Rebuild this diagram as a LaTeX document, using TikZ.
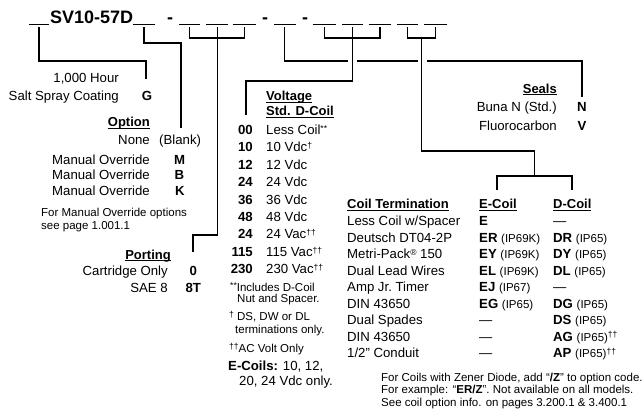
\documentclass[tikz,border=0pt]{standalone}
\usepackage{fontspec}
\setmainfont{Liberation Sans}
\newcommand\ulx[1]{\setbox0\hbox{#1}\rlap{\rule[-2.2pt]{\wd0}{1pt}}\box0}
\newcommand\ipx[1]{{\fontsize{11.5}{13}\selectfont(#1)}}
\newcommand\supx[1]{\raisebox{0.45ex}{\fontsize{8.5}{9}\selectfont #1}}
\tikzset{
  lbl/.style={inner sep=0pt, font=\fontsize{13.2}{15}\selectfont},
  codex/.style={inner sep=0pt, font=\fontsize{13.2}{15}\selectfont\bfseries},
  ftn/.style={inner sep=0pt, font=\fontsize{11.5}{13}\selectfont},
  hdr/.style={inner sep=0pt, font=\fontsize{13}{15}\selectfont\bfseries},
  wire/.style={line width=1.2pt, black},
  blankline/.style={line width=1.2pt, black},
  gapx/.style={line width=3pt, white},
}
\begin{document}
\begin{tikzpicture}[x=1pt,y=-1pt]
\useasboundingbox (0,0) rectangle (643,412);
% model code
\node[inner sep=0pt, anchor=base west, font=\fontsize{18}{20}\selectfont\bfseries] (model) at (50,23.5) {SV10-57D};
\node[inner sep=0pt, anchor=base, font=\fontsize{18}{20}\selectfont\bfseries] (d1) at (170,23.5) {-};
\node[inner sep=0pt, anchor=base, font=\fontsize{18}{20}\selectfont\bfseries] (d2) at (265,23.5) {-};
\node[inner sep=0pt, anchor=base, font=\fontsize{18}{20}\selectfont\bfseries] (d3) at (305,23.5) {-};
% blanks
\foreach \a/\b in {29/49,133/155,179/200,206/228,233/256,274/296,313/336,342/363,369/391,397/418,424/447}
  \draw[blankline] (\a,24.5) -- (\b,24.5);
\coordinate (b0) at (39,27.5);
\coordinate (b1) at (144,27.5);
\coordinate (b2) at (189.5,27.5);
\coordinate (b3) at (217.5,27.5);
\coordinate (b4) at (244.5,27.5);
\coordinate (b5) at (284.5,27.5);
\coordinate (b6) at (324.5,27.5);
\coordinate (b7) at (352.5,27.5);
\coordinate (b8) at (380,27.5);
\coordinate (b9) at (407.5,27.5);
\coordinate (b10) at (435.5,27.5);
\coordinate (eG) at (146,79);
\coordinate (eBl) at (181,128);
\coordinate (eP) at (193,252);
\coordinate (eN) at (582,97);
\coordinate (eV) at (246,115);
\coordinate (cm) at (421.5,38);
\coordinate (cj) at (534.5,176);
\coordinate (eE) at (497,190);
\coordinate (eD) at (572,190);
% connectors
\draw[wire] (b0) |- (eG |- 0,61) -- (eG);
\draw[wire] (b1) |- (eBl |- 0,43) -- (eBl);
\draw[wire] (b2) -- ++(0,10.5) -| (b4);
\draw[wire] (b3) -- (b3 |- 0,235) -| (eP);
\draw[wire] (b5) |- (eN |- 0,61) -- (eN);
\draw[gapx] (348,61) -- (356.5,61);
\draw[gapx] (418,61) -- (426.5,61);
\draw[wire] (b6) -- ++(0,10.5) -| (b8);
\draw[wire] (b7) -- (b7 |- 0,81) -| (eV);
\draw[wire] (b9) -- ++(0,10.5) -| (b10);
\draw[wire] (cm) |- (cj |- 0,151) -- (cj);
\draw[wire] (eE) |- (cj) -| (eD);
% left block
\node[lbl, anchor=base east] (hour) at (119,82.7) {1,000 Hour};
\node[lbl, anchor=base east] (salt) at (119,100.7) {Salt Spray Coating};
\node[codex, anchor=base] (G) at (147,100.7) {G};
\node[hdr, anchor=base east] (opt) at (150,126.5) {\ulx{Option}};
\node[lbl, anchor=base east] (none) at (150,144.7) {None};
\node[lbl, anchor=base west] (blk) at (159,144.7) {(Blank)};
\node[lbl, anchor=base east] (mo1) at (150,164.5) {Manual Override};
\node[codex, anchor=base] (M) at (179.5,164.5) {M};
\node[lbl, anchor=base east] (mo2) at (150,179.8) {Manual Override};
\node[codex, anchor=base] (B) at (179.5,179.8) {B};
\node[lbl, anchor=base east] (mo3) at (150,195.5) {Manual Override};
\node[codex, anchor=base] (K) at (180,195.5) {K};
\node[ftn, anchor=base west] (mon1) at (41,216.5) {For Manual Override options};
\node[ftn, anchor=base west] (mon2) at (41,229.5) {see page 1.001.1};
\node[hdr, anchor=base east] (port) at (171,259) {\ulx{Porting}};
\node[lbl, anchor=base east] (cart) at (168,275.5) {Cartridge Only};
\node[codex, anchor=base] (p0) at (193.3,275.5) {0};
\node[lbl, anchor=base east] (sae) at (168,292) {SAE 8};
\node[codex, anchor=base] (p8) at (193.3,292) {8T};
% voltage
\node[hdr, anchor=base west] (volt) at (266,101) {\ulx{Voltage}};
\node[hdr, anchor=base west] (std) at (266,115.5) {\ulx{Std. D-Coil}};
\foreach \c/\t [count=\i from 0] in {00/Less Coil\supx{**},10/10 Vdc\supx{†},12/12 Vdc,24/24 Vdc,36/36 Vdc,48/48 Vdc,24/24 Vac\supx{††},115/115 Vac\supx{††},230/230 Vac\supx{††}}{
  \node[codex, anchor=base east] (vc\i) at (253,134.5+\i*17.4) {\c};
  \node[lbl, anchor=base west] (vt\i) at (266,134.5+\i*17.4) {\t};
}
% footnotes
\node[ftn, anchor=base west] (f1) at (230,291) {\supx{**}Includes D-Coil};
\node[ftn, anchor=base west] (f2) at (237,302.5) {Nut and Spacer.};
\node[ftn, anchor=base west] (f3) at (229,320) {\supx{†} DS, DW or DL};
\node[ftn, anchor=base west] (f4) at (235,333) {terminations only.};
\node[ftn, anchor=base west] (f5) at (229,352) {\supx{††}AC Volt Only};
\node[lbl, anchor=base west] (f6) at (228,370) {\textbf{E-Coils:} 10, 12,};
\node[lbl, anchor=base west] (f7) at (239,385.5) {20, 24 Vdc only.};
% seals
\node[hdr, anchor=base east] (seals) at (557,93) {\ulx{Seals}};
\node[lbl, anchor=base east] (buna) at (557,111.7) {Buna N (Std.)};
\node[codex, anchor=base] (sN) at (582,111.7) {N};
\node[lbl, anchor=base east] (fluo) at (557,130) {Fluorocarbon};
\node[codex, anchor=base] (sV) at (582,130) {V};
% coil termination
\node[hdr, anchor=base west] (ct) at (347,208.5) {\ulx{Coil Termination}};
\node[hdr, anchor=base west] (ec) at (479,208.5) {\ulx{E-Coil}};
\node[hdr, anchor=base west] (dc) at (553,208.5) {\ulx{D-Coil}};
\foreach \n/\e/\d [count=\i from 0] in {
  {Less Coil w/Spacer}/{\textbf{E}}/{—},
  {Deutsch DT04-2P}/{\textbf{ER} \ipx{IP69K}}/{\textbf{DR} \ipx{IP65}},
  {Metri-Pack\supx{®} 150}/{\textbf{EY} \ipx{IP69K}}/{\textbf{DY} \ipx{IP65}},
  {Dual Lead Wires}/{\textbf{EL} \ipx{IP69K}}/{\textbf{DL} \ipx{IP65}},
  {Amp Jr.\ Timer}/{\textbf{EJ} \ipx{IP67}}/{—},
  {DIN 43650}/{\textbf{EG} \ipx{IP65}}/{\textbf{DG} \ipx{IP65}},
  {Dual Spades}/{—}/{\textbf{DS} \ipx{IP65}},
  {DIN 43650}/{—}/{\textbf{AG} \ipx{IP65}\supx{††}},
  {1/2\symbol{34} Conduit}/{—}/{\textbf{AP} \ipx{IP65}\supx{††}}}{
  \node[lbl, anchor=base west] (cn\i) at (347,225.5+\i*16.5) {\n};
  \node[lbl, anchor=base west] (ce\i) at (479,225.5+\i*16.5) {\e};
  \node[lbl, anchor=base west] (cd\i) at (553,225.5+\i*16.5) {\d};
}
% bottom notes
\node[ftn, anchor=base west] (n1) at (381,381) {For Coils with Zener Diode, add “\textbf{/Z}” to option code.};
\node[ftn, anchor=base west] (n2) at (381,393.5) {For example: “\textbf{ER/Z}”. Not available on all models.};
\node[ftn, anchor=base west] (n3) at (381,406) {See coil option info. on pages 3.200.1 \& 3.400.1};
\end{tikzpicture}
\end{document}
